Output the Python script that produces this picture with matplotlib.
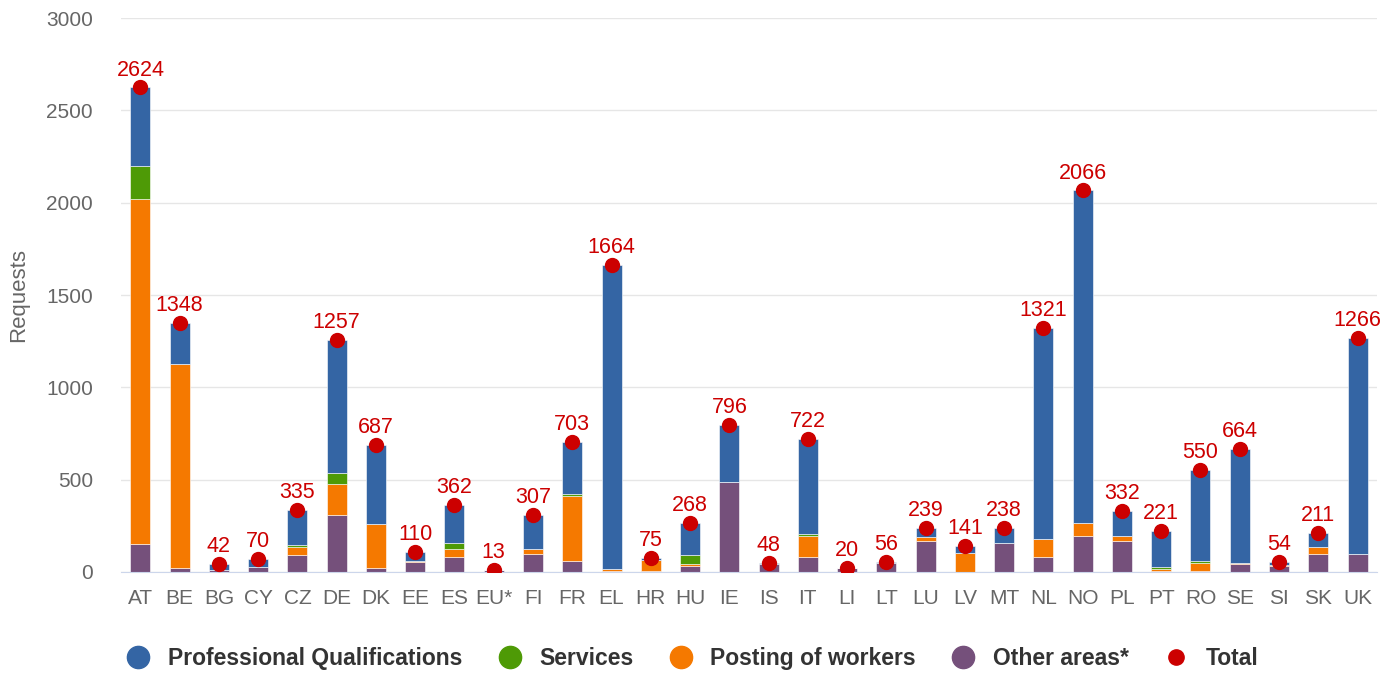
"""Stacked bars of requests per country with totals."""

import matplotlib.pyplot as plt
import numpy as np
from matplotlib.lines import Line2D

plt.rcParams["font.family"] = ["Liberation Sans", "DejaVu Sans"]

countries = ["AT", "BE", "BG", "CY", "CZ", "DE", "DK", "EE", "ES", "EU*", "FI", "FR",
             "EL", "HR", "HU", "IE", "IS", "IT", "LI", "LT", "LU", "LV", "MT", "NL",
             "NO", "PL", "PT", "RO", "SE", "SI", "SK", "UK"]
other = [150, 20, 10, 27, 92, 310, 20, 55, 80, 13, 100, 60,
         5, 3, 35, 490, 45, 80, 20, 50, 170, 0, 155, 80,
         195, 170, 3, 5, 45, 34, 95, 100]
posting = [1870, 1105, 0, 0, 42, 165, 238, 5, 45, 0, 22, 353,
           12, 60, 10, 0, 0, 117, 0, 0, 18, 103, 0, 97,
           72, 27, 15, 45, 4, 5, 40, 0]
services = [180, 0, 0, 0, 11, 59, 0, 0, 30, 0, 0, 11,
            0, 0, 49, 0, 0, 10, 0, 0, 0, 0, 0, 0,
            0, 0, 7, 8, 0, 0, 0, 0]
totals = [2624, 1348, 42, 70, 335, 1257, 687, 110, 362, 13, 307, 703,
          1664, 75, 268, 796, 48, 722, 20, 56, 239, 141, 238, 1321,
          2066, 332, 221, 550, 664, 54, 211, 1266]
prof_qual = [t - o - p - s for t, o, p, s in zip(totals, other, posting, services)]

c_pq, c_serv, c_post, c_other, c_total = "#3465a4", "#4e9a06", "#f57900", "#75507b", "#cc0000"

fig = plt.figure(figsize=(13.96, 6.75), dpi=100)
ax = fig.add_axes([0.0865, 0.1526, 0.9, 0.8207])

x = np.arange(len(countries))
w = 0.51
bottom = np.zeros(len(countries))
for vals, col in [(other, c_other), (posting, c_post), (services, c_serv), (prof_qual, c_pq)]:
    vals = np.array(vals)
    ax.bar(x, vals, w, bottom=bottom, color=col, edgecolor="white", linewidth=0.4, zorder=2)
    bottom += vals

ax.plot(x, totals, "o", color=c_total, markersize=10, zorder=3, linestyle="none")
for xi, t in zip(x, totals):
    ax.annotate(str(t), (xi, t), xytext=(0, 5), textcoords="offset points",
                ha="center", va="bottom", color=c_total, fontsize=15.5, zorder=4)

ax.set_xlim(-0.5, len(countries) - 0.5)
ax.set_ylim(0, 3000)
ax.set_yticks(np.arange(0, 3001, 500))
ax.set_xticks(x)
ax.set_xticklabels(countries)
ax.tick_params(axis="both", length=0, labelsize=15, colors="#666666")
ax.tick_params(axis="y", pad=20)
ax.tick_params(axis="x", pad=12)
ax.grid(axis="y", color="#e6e6e6", linewidth=1, zorder=0)
for s in ["top", "right", "left"]:
    ax.spines[s].set_visible(False)
ax.spines["bottom"].set_color("#ccd6eb")
ax.set_ylabel("Requests", fontsize=16, color="#666666", labelpad=12)

handles = [Line2D([], [], marker="o", linestyle="none", color=c, markersize=ms)
           for c, ms in [(c_pq, 16), (c_serv, 16), (c_post, 16), (c_other, 16), (c_total, 11)]]
labels = ["Professional Qualifications", "Services", "Posting of workers", "Other areas*", "Total"]
leg = fig.legend(handles, labels, loc="center", bbox_to_anchor=(0.492, 0.025), ncol=5,
                 frameon=False, columnspacing=1.05, handletextpad=0.3,
                 prop={"weight": "bold", "size": 16.5})
for t in leg.get_texts():
    t.set_color("#333333")

fig.savefig("out.png", dpi=100)
